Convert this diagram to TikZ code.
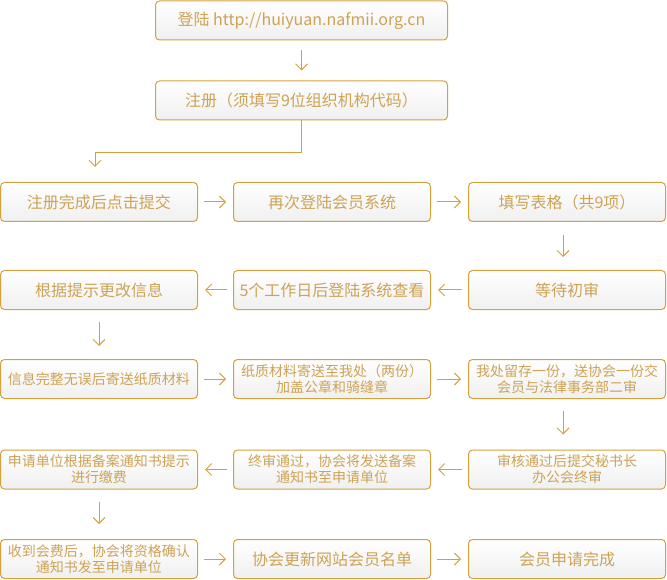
\documentclass[tikz,border=0pt]{standalone}
\usepackage{fontspec}
\setmainfont{Noto Sans CJK SC}
\usetikzlibrary{arrows.meta}
\definecolor{gold}{HTML}{D4A23C}
\definecolor{goldtext}{HTML}{CDA355}

\begin{document}
\begin{tikzpicture}[x=1pt,y=-1pt,
    stepbox/.style={draw=gold,line width=1pt,rounded corners=4pt,top color=white,bottom color=black!6,
        minimum width=197pt,minimum height=39pt,inner sep=0pt,align=center,text=goldtext,
        font=\fontsize{16}{18}\selectfont},
    twoline/.style={font=\fontsize{14}{16}\selectfont},
    arr/.style={draw=gold,line width=1pt,-{Straight Barb[length=6pt,width=12pt]}}]
    \useasboundingbox (0,0) rectangle (667,580);
    \node[stepbox,minimum width=292pt,font=\fontsize{16}{18}\selectfont] (login) at (301.5,20.5) {登陆 http://huiyuan.nafmii.org.cn};
    \node[stepbox,minimum width=292pt] (register) at (301.5,100.5) {注册（须填写9位组织机构代码）};
    \node[stepbox] (submit) at (99,202) {注册完成后点击提交};
    \node[stepbox] (relogin) at (332,202) {再次登陆会员系统};
    \node[stepbox] (fill) at (567,202) {填写表格（共9项）};
    \node[stepbox] (modify) at (99,290) {根据提示更改信息};
    \node[stepbox] (check) at (332,290) {5个工作日后登陆系统查看};
    \node[stepbox] (wait) at (567,290) {等待初审};
    \node[stepbox,twoline] (mail) at (99,379) {信息完整无误后寄送纸质材料};
    \node[stepbox,twoline] (seal) at (332,379) {纸质材料寄送至我处（两份）\\加盖公章和骑缝章};
    \node[stepbox,twoline] (review) at (567,379) {我处留存一份，送协会一份交\\会员与法律事务部二审};
    \node[stepbox,twoline] (pay) at (99,469.5) {申请单位根据备案通知书提示\\进行缴费};
    \node[stepbox,twoline] (notice) at (332,469.5) {终审通过，协会将发送备案\\通知书至申请单位};
    \node[stepbox,twoline] (final) at (567,469.5) {审核通过后提交秘书长\\办公会终审};
    \node[stepbox,twoline] (confirm) at (99,559) {收到会费后，协会将资格确认\\通知书发至申请单位};
    \node[stepbox] (update) at (332,559) {协会更新网站会员名单};
    \node[stepbox] (done) at (567,559) {会员申请完成};
    \coordinate (bend) at (95,153);
    \draw[arr,shorten <=10pt,shorten >=10pt] (login) -- (register);
    \draw[arr,shorten >=15pt] (register.south) |- (bend) -- (bend |- submit.north);
    \foreach \a/\b in {submit/relogin,relogin/fill,wait/check,check/modify,mail/seal,seal/review,
        final/notice,notice/pay,confirm/update,update/done}
        \draw[arr,shorten <=6pt,shorten >=7pt] (\a) -- (\b);
    \draw[arr,shorten <=13pt,shorten >=13pt] ([xshift=-4pt]fill.south) -- ([xshift=-4pt]wait.north);
    \draw[arr,shorten <=12pt,shorten >=13pt] (modify) -- (mail);
    \draw[arr,shorten <=12pt,shorten >=15pt] ([xshift=-4pt]review.south) -- ([xshift=-4pt]final.north);
    \draw[arr,shorten <=12pt,shorten >=15pt] (pay) -- (confirm);
\end{tikzpicture}
\end{document}
